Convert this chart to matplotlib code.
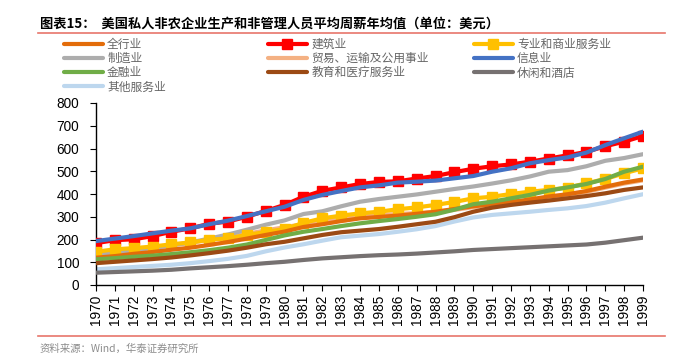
import numpy as np
import matplotlib.pyplot as plt
from matplotlib.lines import Line2D

plt.rcParams['font.family'] = ['Liberation Sans', 'Noto Sans CJK SC', 'DejaVu Sans']

years = list(range(1970, 2000))

total = [120, 127, 137, 145, 155, 164, 176, 189, 204, 220, 235, 255, 267, 281, 293,
         299, 305, 313, 322, 334, 346, 355, 365, 376, 389, 399, 413, 432, 450, 464]
construction = [184, 197, 201, 215, 234, 249, 269, 279, 300, 326, 352, 388, 414, 429, 444,
                453, 456, 468, 479, 496, 511, 522, 530, 542, 556, 570, 585, 610, 630, 655]
prof_business = [146, 157, 162, 169, 179, 187, 199, 205, 220, 233, 246, 273, 293, 305, 315,
                 322, 333, 341, 352, 365, 381, 388, 400, 410, 418, 428, 447, 466, 491, 513]
manufacturing = [132, 140, 152, 163, 174, 187, 204, 222, 243, 265, 284, 312, 324, 346, 366,
                 378, 388, 398, 410, 422, 433, 446, 460, 477, 498, 505, 522, 546, 558, 575]
trade_transport = [138, 146, 155, 164, 174, 185, 198, 211, 225, 240, 254, 268, 284, 293, 303,
                   308, 312, 316, 322, 330, 342, 351, 361, 372, 384, 395, 409, 428, 446, 460]
information = [193, 204, 215, 227, 239, 249, 267, 283, 303, 324, 344, 374, 396, 413, 429,
               438, 450, 454, 459, 469, 479, 498, 513, 535, 549, 561, 582, 615, 645, 674]
financial = [113, 118, 124, 129, 136, 144, 153, 164, 178, 198, 218, 234, 246, 259, 271,
             281, 290, 300, 311, 331, 355, 366, 381, 396, 415, 429, 444, 466, 498, 520]
edu_health = [96, 102, 108, 114, 121, 130, 140, 151, 164, 179, 190, 205, 220, 232, 239,
              246, 256, 267, 278, 298, 322, 340, 352, 362, 371, 381, 391, 403, 418, 429]
leisure = [54, 57, 60, 63, 67, 73, 78, 83, 89, 96, 102, 110, 117, 122, 127,
           131, 134, 138, 143, 148, 154, 158, 162, 166, 170, 174, 178, 186, 197, 208]
other_services = [69, 74, 79, 84, 89, 96, 105, 115, 128, 148, 165, 179, 195, 210, 217,
                  224, 234, 245, 259, 279, 297, 308, 315, 322, 330, 337, 347, 362, 381, 399]

series = [
    ("全行业", total, "#E36C0A", None, 6),
    ("建筑业", construction, "#FF0000", "s", 3),
    ("专业和商业服务业", prof_business, "#FFC000", "s", 4),
    ("制造业", manufacturing, "#ADADAD", None, 3),
    ("贸易、运输及公用事业", trade_transport, "#F4B183", None, 2),
    ("信息业", information, "#4472C4", None, 5),
    ("金融业", financial, "#70AD47", None, 7),
    ("教育和医疗服务业", edu_health, "#9C4A14", None, 8),
    ("休闲和酒店", leisure, "#767171", None, 9),
    ("其他服务业", other_services, "#BDD7EE", None, 1),
]

fig = plt.figure(figsize=(6.82, 3.61), dpi=100)
ax = fig.add_axes([96 / 682, 1 - 285 / 361, (643 - 96) / 682, (285 - 103) / 361])

handles = []
for name, vals, color, marker, z in series:
    line, = ax.plot(years, vals, color=color, lw=3.0, marker=marker, ms=6.5,
                    solid_capstyle='round', zorder=z, label=name)
    handles.append(line)

ax.set_xlim(1970, 1999)
ax.set_ylim(0, 800)
ax.set_yticks(range(0, 801, 100))
ax.set_xticks(years)
ax.set_xticklabels([str(y) for y in years], rotation=90, fontsize=9.8)
ax.tick_params(axis='y', labelsize=9.8, length=4, direction='out', pad=8)
ax.tick_params(axis='x', length=4, direction='out', pad=3)
for s in ['top', 'right']:
    ax.spines[s].set_visible(False)
for s in ['left', 'bottom']:
    ax.spines[s].set_color('black')
    ax.spines[s].set_linewidth(1.0)

# legend: three columns placed by hand
cols = [[0, 3, 6, 9], [1, 4, 7], [2, 5, 8]]
col_x = [64 / 682, 268 / 682, 474 / 682]
for xs, idx in zip(col_x, cols):
    leg = fig.legend([handles[i] for i in idx], [series[i][0] for i in idx],
                     loc='upper left', bbox_to_anchor=(xs, 1 - 38 / 361),
                     frameon=False, ncol=1, handlelength=3.3, handletextpad=0.35,
                     labelspacing=0.1, numpoints=1, borderaxespad=0, borderpad=0,
                     prop={'family': ['Noto Sans CJK SC'], 'size': 8.5})
    for t in leg.get_texts():
        t.set_color('#666666')

fig.text(40 / 682, 1 - 23 / 361, "图表15：  美国私人非农企业生产和非管理人员平均周薪年均值（单位：美元）",
         fontsize=9.5, fontweight='bold', va='center', ha='left',
         family=['Noto Sans CJK SC'])
fig.add_artist(Line2D([38 / 682, 665 / 682], [1 - 33 / 361, 1 - 33 / 361],
                      color='#E8756B', lw=1.2))
fig.add_artist(Line2D([38 / 682, 665 / 682], [1 - 336 / 361, 1 - 336 / 361],
                      color='#E8756B', lw=1.2))
fig.text(40 / 682, 1 - 349 / 361, "资料来源：Wind，华泰证券研究所", fontsize=7.5,
         color='#8C8C8C', va='center', ha='left',
         family=['Noto Sans CJK SC', 'DejaVu Sans'])

fig.savefig("out.png", dpi=100)
